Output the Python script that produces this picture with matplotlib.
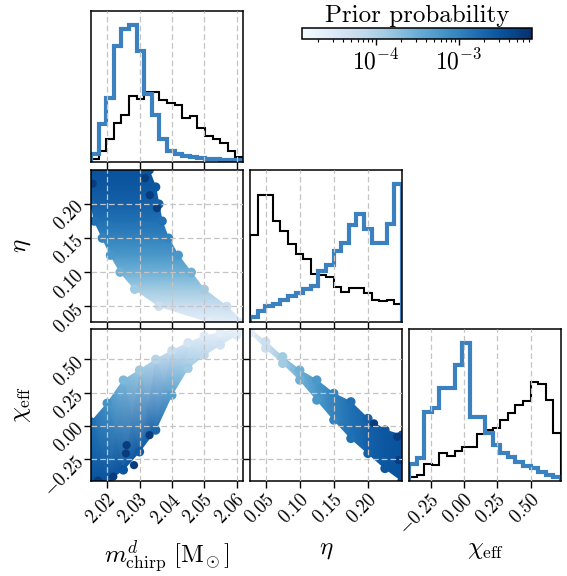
import numpy as np
import matplotlib
matplotlib.use('Agg')
import matplotlib.pyplot as plt
from matplotlib import ticker
from matplotlib.colors import LogNorm

plt.rcParams['font.family'] = ['cmr10']
plt.rcParams['mathtext.fontset'] = 'cm'
plt.rcParams['axes.formatter.use_mathtext'] = True
plt.rcParams['axes.unicode_minus'] = False

# parameter ranges and ticks
m_lim = (2.015, 2.062)
eta_lim = (0.027, 0.25)
chi_lim = (-0.413, 0.727)
m_ticks = [2.02, 2.03, 2.04, 2.05, 2.06]
eta_ticks = [0.05, 0.10, 0.15, 0.20]
chi_ticks = [-0.25, 0.0, 0.25, 0.50]

# 1d histograms (20 bins over the axis range), black and blue
m_hist_k = [10, 33, 68, 118, 140, 198, 191, 211, 211, 188, 178, 170, 133, 138, 103, 78, 68, 56, 33, 16]
m_hist_b = [23, 113, 193, 350, 400, 413, 335, 205, 140, 70, 33, 25, 19, 15, 12, 10, 8, 7, 6, 5]
eta_hist_k = [262, 382, 384, 304, 274, 234, 204, 189, 144, 142, 137, 107, 90, 102, 102, 87, 67, 62, 65, 55]
eta_hist_b = [15, 32, 47, 54, 65, 77, 87, 99, 109, 154, 172, 215, 237, 292, 327, 282, 239, 237, 297, 417]
chi_hist_k = [13, 18, 51, 48, 83, 76, 90, 103, 103, 141, 153, 158, 183, 205, 228, 241, 296, 291, 243, 143]
chi_hist_b = [51, 68, 208, 218, 278, 278, 348, 415, 193, 193, 143, 108, 83, 71, 58, 46, 38, 28, 18, 11]

# prior probability along eta
eta_nodes = [0.027, 0.05, 0.075, 0.10, 0.125, 0.15, 0.175, 0.20, 0.225, 0.25]
prior_eta = [2.4e-5, 5.2e-5, 1.36e-4, 2.9e-4, 5.9e-4, 9.9e-4, 1.54e-3, 2.26e-3, 2.9e-3, 3.3e-3]
# prior probability along chi_eff
chi_nodes = [-0.413, -0.25, 0.0, 0.10, 0.25, 0.40, 0.50, 0.60, 0.727]
prior_chi = [3.3e-3, 2.9e-3, 1.87e-3, 9.9e-4, 4.3e-4, 1.65e-4, 8.7e-5, 4.6e-5, 2.1e-5]
prior_range = (1.28e-5, 7.6e-3)

# sample region in (m, eta): m extent at each eta node
me_m_lo = [2.0515, 2.036, 2.0285, 2.024, 2.021, 2.0185, 2.016, 2.015, 2.015, 2.015]
me_m_hi = [2.062, 2.057, 2.050, 2.046, 2.042, 2.039, 2.037, 2.036, 2.035, 2.033]
# sample region in (eta, chi): chi extent at each eta node
ec_chi_lo = [0.70, 0.582, 0.469, 0.344, 0.194, 0.044, -0.094, -0.206, -0.319, -0.413]
ec_chi_hi = [0.727, 0.632, 0.519, 0.419, 0.344, 0.244, 0.181, 0.056, -0.031, -0.069]
# sample region in (m, chi): chi extent at each m node
mc_m = [2.015, 2.02, 2.025, 2.03, 2.035, 2.04, 2.045, 2.05, 2.055, 2.06, 2.062]
mc_chi_lo = [-0.413, -0.413, -0.33, -0.194, -0.031, 0.231, 0.432, 0.532, 0.607, 0.682, 0.72]
mc_chi_hi = [0.03, 0.17, 0.344, 0.419, 0.50, 0.564, 0.624, 0.674, 0.70, 0.727, 0.727]

# high prior samples
hot_me_m = [2.0317, 2.0332, 2.0354, 2.0155]
hot_me_eta = [0.238, 0.213, 0.194, 0.23]
hot_mc_m = [2.026, 2.0258, 2.0283, 2.0331, 2.0172, 2.0219]
hot_mc_chi = [-0.144, -0.206, -0.294, -0.069, -0.41, -0.38]
hot_ec_eta = [0.209, 0.243, 0.245]
hot_ec_chi = [0.019, -0.081, -0.256]
hot_prior = 5.5e-3

cmap = plt.get_cmap('Blues')
norm = LogNorm(*prior_range)
blue = '#3b80bf'
W, H = 567, 576

fig = plt.figure(figsize=(W / 100, H / 100), dpi=100)


def add_ax(x0, y0, x1, y1):
    return fig.add_axes([x0 / W, 1 - y1 / H, (x1 - x0) / W, (y1 - y0) / H])


cols = [(91, 243), (250, 402), (409, 561)]
rows = [(11, 162), (170, 322), (329, 481)]
ax_m = add_ax(cols[0][0], rows[0][0], cols[0][1], rows[0][1])
ax_me = add_ax(cols[0][0], rows[1][0], cols[0][1], rows[1][1])
ax_eta = add_ax(cols[1][0], rows[1][0], cols[1][1], rows[1][1])
ax_mc = add_ax(cols[0][0], rows[2][0], cols[0][1], rows[2][1])
ax_ec = add_ax(cols[1][0], rows[2][0], cols[1][1], rows[2][1])
ax_chi = add_ax(cols[2][0], rows[2][0], cols[2][1], rows[2][1])
cax = add_ax(302, 28, 532, 39)

fmt = ticker.FuncFormatter(lambda v, pos: '$%.2f$' % v)


def style(ax, xlim, xticks, ylim=None, yticks=None):
    ax.set_xlim(xlim)
    ax.set_xticks(xticks)
    ax.xaxis.set_major_formatter(fmt)
    if ylim is not None:
        ax.set_ylim(ylim)
        ax.set_yticks(yticks)
        ax.yaxis.set_major_formatter(fmt)
    else:
        ax.set_yticks([])
    ax.tick_params(direction='out', length=5, width=1.0, labelsize=13.5, pad=2)
    for s in ax.spines.values():
        s.set_linewidth(1.1)
    ax.set_axisbelow(False)
    ax.grid(True, ls=(0, (4.5, 2.5)), color='#c4c4c4', lw=0.9)
    plt.setp(ax.get_xticklabels(), rotation=45, ha='right', va='top', rotation_mode='anchor')
    plt.setp(ax.get_yticklabels(), rotation=45, ha='right', va='center', rotation_mode='anchor')


def hist(ax, lim, k, b):
    edges = np.linspace(lim[0], lim[1], len(k) + 1)
    ax.stairs(k, edges, color='black', lw=1.5)
    ax.stairs(b, edges, color=blue, lw=3.0)
    ax.set_ylim(0, 1.1 * max(max(k), max(b)))


def band(ax, x, y, p):
    x, y, p = np.asarray(x), np.asarray(y), np.asarray(p)
    ax.pcolormesh(x, y, p, shading='gouraud', cmap=cmap, norm=norm)
    ax.scatter(x.ravel(), y.ravel(), c=p.ravel(), s=45, cmap=cmap, norm=norm, linewidths=0)


# diagonal
hist(ax_m, m_lim, m_hist_k, m_hist_b)
hist(ax_eta, eta_lim, eta_hist_k, eta_hist_b)
hist(ax_chi, chi_lim, chi_hist_k, chi_hist_b)

# m vs eta
band(ax_me, [me_m_lo, me_m_hi], [eta_nodes, eta_nodes], [prior_eta, prior_eta])
ax_me.scatter(hot_me_m, hot_me_eta, c=[hot_prior] * len(hot_me_m), s=35, cmap=cmap, norm=norm, linewidths=0)

# eta vs chi
band(ax_ec, [eta_nodes, eta_nodes], [ec_chi_lo, ec_chi_hi], [prior_eta, prior_eta])
ax_ec.scatter(hot_ec_eta, hot_ec_chi, c=[hot_prior] * len(hot_ec_eta), s=35, cmap=cmap, norm=norm, linewidths=0)

# m vs chi, colour follows chi
mc_y = np.array([mc_chi_lo, mc_chi_hi])
mc_p = 10 ** np.interp(mc_y, chi_nodes, np.log10(prior_chi))
band(ax_mc, [mc_m, mc_m], mc_y, mc_p)
ax_mc.scatter(hot_mc_m, hot_mc_chi, c=[hot_prior] * len(hot_mc_m), s=35, cmap=cmap, norm=norm, linewidths=0)

style(ax_m, m_lim, m_ticks)
style(ax_eta, eta_lim, eta_ticks)
style(ax_chi, chi_lim, chi_ticks)
style(ax_me, m_lim, m_ticks, eta_lim, eta_ticks)
style(ax_mc, m_lim, m_ticks, chi_lim, chi_ticks)
style(ax_ec, eta_lim, eta_ticks, chi_lim, chi_ticks)

for ax in [ax_m, ax_me, ax_eta]:
    ax.tick_params(labelbottom=False)
ax_ec.tick_params(labelleft=False)

ax_mc.set_xlabel(r'$m^d_{\rm chirp}\ [{\rm M}_{\!\odot}]$', fontsize=18)
ax_ec.set_xlabel(r'$\eta$', fontsize=18)
ax_chi.set_xlabel(r'$\chi_{\rm eff}$', fontsize=18)
ax_me.set_ylabel(r'$\eta$', fontsize=18)
ax_mc.set_ylabel(r'$\chi_{\rm eff}$', fontsize=18)
for ax in [ax_mc, ax_ec, ax_chi]:
    ax.xaxis.set_label_coords(0.5, -0.38)
for ax in [ax_me, ax_mc]:
    ax.yaxis.set_label_coords(-0.38, 0.5)

sm = plt.cm.ScalarMappable(norm=norm, cmap=cmap)
cbar = fig.colorbar(sm, cax=cax, orientation='horizontal')
cbar.outline.set_linewidth(1.1)
cbar.set_label('Prior probability', fontsize=18, labelpad=4)
cax.xaxis.set_label_position('top')
cax.tick_params(which='major', direction='out', length=4, width=1.0, labelsize=17, pad=3)
cax.tick_params(which='minor', direction='out', length=2, width=0.8)

fig.savefig('out.png', dpi=100)
